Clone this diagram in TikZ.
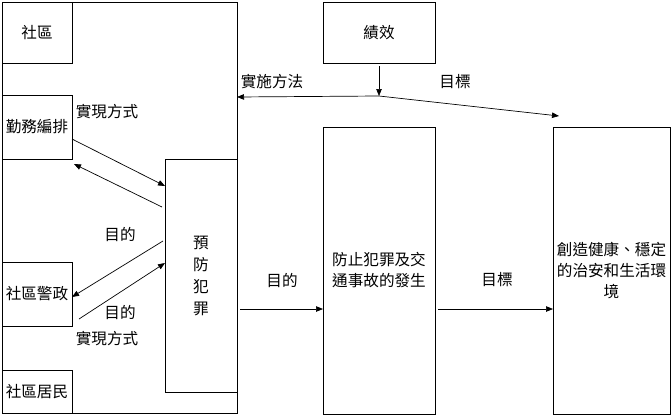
\documentclass[tikz,border=0pt]{standalone}
\usepackage{fontspec}
\setmainfont{Noto Sans CJK TC}
\usetikzlibrary{arrows.meta,calc}
\begin{document}
\begin{tikzpicture}[x=1pt,y=-1pt,
  box/.style={draw, line width=0.8pt, inner sep=0pt, outer sep=0pt, anchor=north west, align=center},
  lbl/.style={inner sep=0pt},
  arr/.style={line width=0.7pt, -{Triangle[length=7pt,width=5.5pt]}},
  font=\fontsize{15.6}{21}\selectfont]
\useasboundingbox (0,0) rectangle (671,415);
\node[box, minimum width=235pt, minimum height=411pt] (outer) at (2,2) {};
\node[box, minimum width=70pt, minimum height=61pt] (she) at (2,2) {社區};
\node[box, minimum width=70pt, minimum height=64pt] (qin) at (2,95) {勤務編排};
\node[box, minimum width=72pt, minimum height=233pt, font=\fontsize{15.6}{22}\selectfont] (yu) at (165,159) {預\\防\\犯\\罪};
\node[box, minimum width=70pt, minimum height=64pt] (jing) at (2,262) {社區警政};
\node[box, minimum width=70pt, minimum height=43pt] (ju) at (2,370) {社區居民};
\node[box, minimum width=112pt, minimum height=61pt] (ji) at (323,2) {績效};
\node[box, minimum width=112pt, minimum height=287pt] (fang) at (323,127) {防止犯罪及交\\通事故的發生};
\node[box, minimum width=117pt, minimum height=287pt] (chuang) at (553,127) {創造健康、穩定\\的治安和生活環\\境};

\coordinate (j) at (379,96);
\coordinate (t) at (559,116);

\draw[arr] ($(qin.south east)+(0,-20)$) -- ($(yu.north west)+(0,27)$);
\draw[arr] ($(yu.north west)+(-3,48)$) -- ($(qin.south east)+(2,5)$);
\draw[arr] ($(yu.north west)+(-2,82)$) -- ($(jing.north east)+(0,35)$);
\draw[arr] ($(jing.south east)+(7,-7)$) -- ($(yu.north west)+(0,104)$);

\draw[arr] ($(ji.south)+(0,3)$) -- (j);
\draw[arr] (j) -- ($(outer.north east)+(0,95)$);
\draw[arr] (j) -- (t);

\draw[arr] ($(outer.south east)+(3,-104)$) -- ($(fang.south west)+(0,-105)$);
\draw[arr] ($(fang.south east)+(3,-105)$) -- ($(chuang.south west)+(0,-105)$);

\node[lbl] (l1) at (107,112) {實現方式};
\node[lbl] (l2) at (120,234) {目的};
\node[lbl] (l3) at (120,312) {目的};
\node[lbl] (l4) at (107,339) {實現方式};
\node[lbl] (l5) at (272,82) {實施方法};
\node[lbl] (l6) at (455,82) {目標};
\node[lbl] (l7) at (282,280) {目的};
\node[lbl] (l8) at (497,280) {目標};
\end{tikzpicture}
\end{document}
